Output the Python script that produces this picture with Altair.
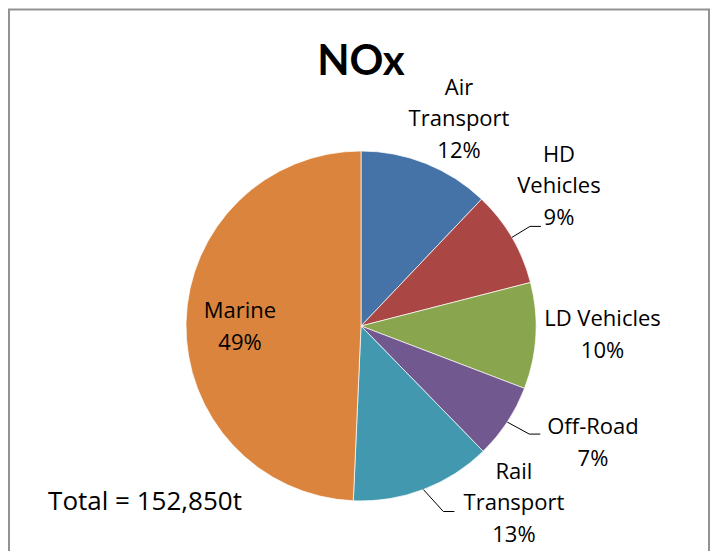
import altair as alt
import pandas as pd
import numpy as np

# ---- data ----
categories = ["Air Transport", "HD Vehicles", "LD Vehicles", "Off-Road", "Rail Transport", "Marine"]
shares = [12.1, 8.9, 9.8, 6.9, 13.0, 49.3]          # % of total NOx
label_names = ["Air\nTransport", "HD\nVehicles", "LD Vehicles", "Off-Road", "Rail\nTransport", "Marine"]
colors = ["#4572A7", "#AA4643", "#89A54E", "#71588F", "#4198AF", "#DB843D"]
title_text = "NOx"
total_text = "Total = 152,850t"

# ---- layout (pixels / degrees) ----
W, H = 702, 543
CX, CY, R = 353, 318, 175
label_radius = [257.8, 261.8, 241.6, 253.0, 211.3, 121.9]
label_shift_deg = [0.56, -10.45, -4.9, -9.77, -25.5, 5.77]
leader_bend = [None, (18, -11), None, (22, 12), (20, 22), None]
TAIL = 11
LABEL_FONT = "Open Sans"
TITLE_FONT = "Lato"

df = pd.DataFrame({"category": categories, "share": shares, "idx": range(len(categories))})
total = df["share"].sum()
cum = df["share"].cumsum()
mid = (cum - df["share"] / 2) / total * 2 * np.pi
df["pct"] = [f"{round(v)}%" for v in df["share"]]
df["label"] = [f"{n}\n{p}" for n, p in zip(label_names, df["pct"])]
df["theta"] = mid + np.radians(label_shift_deg)
df["r"] = label_radius

# leader lines: start on the slice edge at the slice's mid angle, bend, short horizontal tail
segs = []
for m, bend in zip(mid, leader_bend):
    if bend is None:
        continue
    x0, y0 = CX + R * np.sin(m), CY - R * np.cos(m)
    x1, y1 = x0 + bend[0], y0 + bend[1]
    segs.append({"x": x0, "y": y0, "x2": x1, "y2": y1})
    segs.append({"x": x1, "y": y1, "x2": x1 + TAIL, "y2": y1})
seg_df = pd.DataFrame(segs)

one = pd.DataFrame({"t": [title_text], "tot": [total_text]})

frame = alt.Chart(one).mark_rect(filled=False, stroke="#929292", strokeWidth=2).encode(
    x=alt.value(1), x2=alt.value(W - 1), y=alt.value(1.5), y2=alt.value(H + 40)
)

arcs = alt.Chart(df).mark_arc(outerRadius=R, x=CX, y=CY, stroke="white", strokeWidth=0.7).encode(
    theta=alt.Theta("share:Q", stack=True),
    color=alt.Color("category:N", scale=alt.Scale(domain=categories, range=colors), legend=None),
    order=alt.Order("idx:Q"),
)

leaders = alt.Chart(seg_df).mark_rule(color="#000000", strokeWidth=1).encode(
    x=alt.X("x:Q", scale=None), y=alt.Y("y:Q", scale=None), x2="x2:Q", y2="y2:Q"
)

labels = alt.Chart(df).mark_text(
    x=CX, y=CY, font=LABEL_FONT, fontSize=22, color="#000000", align="center", baseline="middle",
    lineBreak="\n", lineHeight=31.5,
).encode(
    theta=alt.Theta("theta:Q", scale=None),
    radius=alt.Radius("r:Q", scale=None),
    text="label:N",
)

title = alt.Chart(one).mark_text(
    x=CX, y=67, font=TITLE_FONT, fontSize=42, fontWeight="bold", color="#000000",
    align="center", baseline="alphabetic",
).encode(text="t:N")

total_lbl = alt.Chart(one).mark_text(
    x=137, y=502, font=LABEL_FONT, fontSize=26, color="#000000", align="center", baseline="alphabetic",
).encode(text="tot:N")

chart = alt.layer(frame, arcs, leaders, labels, title, total_lbl).properties(
    width=W, height=H, padding=0, autosize=alt.AutoSizeParams(type="none")
).configure_view(stroke=None)

chart.save("out.html", embed_options={"renderer": "svg", "actions": False})
